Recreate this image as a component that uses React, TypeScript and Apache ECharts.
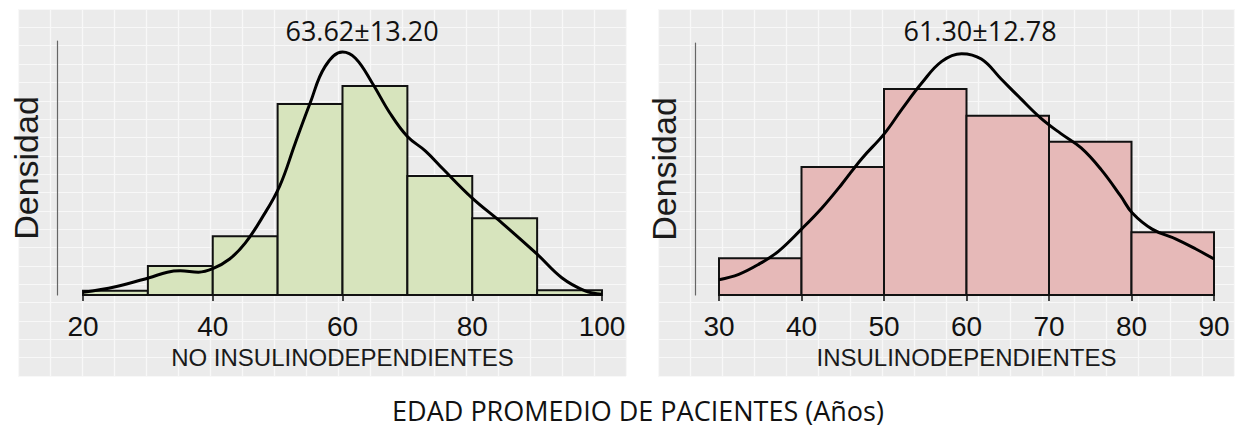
import React, { useEffect, useRef } from "react";
import * as echarts from "echarts";

// ---- Data: left panel (NO INSULINODEPENDIENTES) ----
const leftBinEdges = [20, 30, 40, 50, 60, 70, 80, 90, 100];
const leftDensity = [0.0006, 0.0042, 0.0085, 0.0276, 0.0302, 0.0172, 0.0111, 0.0007];
const leftCurveX = [20, 25, 30.2, 33, 35, 37.8, 40, 42.6, 45, 47.5, 50.3, 52.7, 55, 57.3, 60, 62, 64.6, 67.3, 70, 72.8, 75.5, 80, 84.6, 90, 93.8, 97.4, 100];
const leftCurveY = [0.0004, 0.0012, 0.0025, 0.0033, 0.0035, 0.0033, 0.0038, 0.0052, 0.0075, 0.011, 0.0157, 0.0219, 0.0277, 0.033, 0.0351, 0.0342, 0.0306, 0.0263, 0.0229, 0.0208, 0.0182, 0.014, 0.0104, 0.0059, 0.0025, 0.0006, 0.0001];
const leftTitle = "63.62±13.20";
const leftAxisName = "NO INSULINODEPENDIENTES";

// ---- Data: right panel (INSULINODEPENDIENTES) ----
const rightBinEdges = [30, 40, 50, 60, 70, 80, 90];
const rightDensity = [0.0048, 0.0167, 0.0269, 0.0234, 0.02, 0.0082];
const rightCurveX = [30, 32.4, 34.8, 37.2, 40, 42.5, 44.9, 47.3, 50, 52.2, 54.6, 57, 59.4, 61.8, 64.2, 66.6, 69, 71.4, 73.9, 76.3, 78.7, 80.1, 82.5, 85.4, 87.8, 90];
const rightCurveY = [0.002, 0.0027, 0.004, 0.0057, 0.0086, 0.0114, 0.0145, 0.0178, 0.021, 0.0243, 0.0277, 0.0305, 0.0315, 0.0308, 0.0282, 0.0256, 0.0231, 0.0211, 0.0192, 0.0164, 0.0129, 0.0107, 0.0086, 0.0073, 0.006, 0.0047];
const rightTitle = "61.30±12.78";
const rightAxisName = "INSULINODEPENDIENTES";

const yAxisName = "Densidad";
const bottomLabel = "EDAD PROMEDIO DE PACIENTES (Años)";

const ARIAL = "'Liberation Sans', Arial, sans-serif";
const CAL = "'Open Sans', 'Noto Sans', sans-serif";

function histData(edges: number[], dens: number[]) {
  return dens.map((d, i) => [edges[i], edges[i + 1], d]);
}
function curveData(xs: number[], ys: number[]) {
  return xs.map((x, i) => [x, ys[i]]);
}

function histSeries(data: number[][], xi: number, fill: string) {
  return {
    type: "custom",
    xAxisIndex: xi,
    yAxisIndex: xi,
    data,
    encode: { x: [0, 1], y: 2 },
    z: 2,
    renderItem: (_p: any, api: any) => {
      const lo = api.value(0);
      const hi = api.value(1);
      const d = api.value(2);
      const a = api.coord([lo, d]);
      const b = api.coord([hi, 0]);
      return {
        type: "rect",
        shape: { x: a[0], y: a[1], width: b[0] - a[0], height: b[1] - a[1] },
        style: { fill, stroke: "#111", lineWidth: 2 },
      };
    },
  };
}

function bgAxes(cellsX: number, cellsY: number, gi: number) {
  return {
    x: {
      type: "value", gridIndex: gi, min: 0, max: cellsX, interval: 1,
      axisLine: { show: false }, axisTick: { show: false }, axisLabel: { show: false },
      splitLine: { show: true, lineStyle: { color: "#f8f8f8", width: 1.2 } },
    },
    y: {
      type: "value", gridIndex: gi, min: 0, max: cellsY, interval: 1,
      axisLine: { show: false }, axisTick: { show: false }, axisLabel: { show: false },
      splitLine: { show: true, lineStyle: { color: "#f8f8f8", width: 1.2 } },
    },
  };
}

function dataXAxis(gi: number, min: number, max: number, interval: number, name: string) {
  return {
    type: "value", gridIndex: gi, min, max, interval, offset: 14,
    name, nameLocation: "middle", nameGap: 36,
    nameTextStyle: { fontFamily: ARIAL, fontSize: 24, color: "#1a1a1a" },
    axisLine: { show: true, lineStyle: { color: "#111", width: 1.5 } },
    axisTick: { show: true, length: 6, lineStyle: { color: "#111", width: 1.5 } },
    axisLabel: { show: true, margin: 3, fontFamily: ARIAL, fontSize: 28, color: "#111", showMinLabel: true, showMaxLabel: true },
    splitLine: { show: false },
  };
}

function dataYAxis(gi: number, max: number, offset: number) {
  return {
    type: "value", gridIndex: gi, min: 0, max, offset,
    name: yAxisName, nameLocation: "middle", nameRotate: 90, nameGap: 14,
    nameTextStyle: { fontFamily: ARIAL, fontSize: 34, color: "#1a1a1a" },
    axisLine: { show: true, lineStyle: { color: "#666", width: 1.2 } },
    axisTick: { show: false }, axisLabel: { show: false }, splitLine: { show: false },
  };
}

export default function App() {
  const ref = useRef<HTMLDivElement>(null);
  useEffect(() => {
    if (!ref.current) return;
    const chart = echarts.init(ref.current, null, { renderer: "svg" });
    const bgL = bgAxes(19, 20, 0);
    const bgR = bgAxes(18, 20, 1);
    const option: any = {
      animation: false,
      backgroundColor: "#ffffff",
      grid: [
        { left: 18, top: 9, width: 608, height: 367, show: true, backgroundColor: "#ebebeb", borderWidth: 0 },
        { left: 658, top: 9, width: 576, height: 367, show: true, backgroundColor: "#ebebeb", borderWidth: 0 },
        { left: 83, top: 41, width: 519, height: 254 },
        { left: 719, top: 43, width: 495, height: 252 },
      ],
      xAxis: [
        bgL.x, bgR.x,
        dataXAxis(2, 20, 100, 20, leftAxisName),
        dataXAxis(3, 30, 90, 10, rightAxisName),
      ],
      yAxis: [
        bgL.y, bgR.y,
        dataYAxis(2, 0.0367, 26),
        dataYAxis(3, 0.0329, 24),
      ],
      series: [
        histSeries(histData(leftBinEdges, leftDensity), 2, "#d7e4bd"),
        histSeries(histData(rightBinEdges, rightDensity), 3, "#e6b9b8"),
        {
          type: "line", xAxisIndex: 2, yAxisIndex: 2, z: 5,
          data: curveData(leftCurveX, leftCurveY), smooth: 0.4, showSymbol: false,
          lineStyle: { color: "#000", width: 3 },
        },
        {
          type: "line", xAxisIndex: 3, yAxisIndex: 3, z: 5,
          data: curveData(rightCurveX, rightCurveY), smooth: 0.4, showSymbol: false,
          lineStyle: { color: "#000", width: 3 },
        },
      ],
      graphic: [
        { type: "text", x: 362, y: 30, z: 10, style: { text: leftTitle, font: `27px ${CAL}`, fill: "#111", textAlign: "center", textVerticalAlign: "middle" } },
        { type: "text", x: 980, y: 30, z: 10, style: { text: rightTitle, font: `27px ${CAL}`, fill: "#111", textAlign: "center", textVerticalAlign: "middle" } },
        { type: "text", x: 638, y: 410, z: 10, style: { text: bottomLabel, font: `27px ${CAL}`, fill: "#111", textAlign: "center", textVerticalAlign: "middle" } },
      ],
    };
    chart.setOption(option);
    return () => chart.dispose();
  }, []);
  return <div ref={ref} style={{ position: "absolute", left: 0, top: 0, width: 1243, height: 427 }} />;
}
